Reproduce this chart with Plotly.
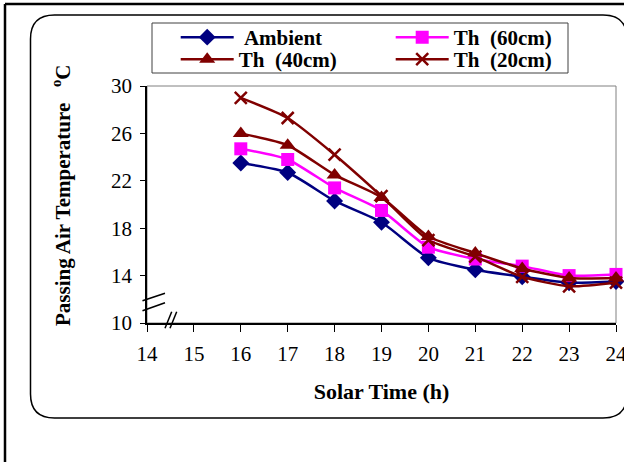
import plotly.graph_objects as go

hours = [16, 17, 18, 19, 20, 21, 22, 23, 24]
ambient = [23.5, 22.7, 20.3, 18.5, 15.5, 14.5, 13.9, 13.4, 13.5]
th60 = [24.7, 23.8, 21.4, 19.5, 16.4, 15.4, 14.8, 14.0, 14.1]
th40 = [26.0, 25.0, 22.5, 20.6, 17.3, 15.9, 14.6, 13.8, 13.8]
th20 = [29.0, 27.3, 24.2, 20.7, 17.0, 15.6, 13.9, 13.1, 13.4]

x_ticks = [14, 15, 16, 17, 18, 19, 20, 21, 22, 23, 24]
y_ticks = [10, 14, 18, 22, 26, 30]

W, H = 624, 462
L, R, T, B = 147, 616, 86, 323
SERIF = "Liberation Serif, Times New Roman, serif"


def px(x):
    return (x - L) / (R - L)


def py(y):
    return (B - y) / (B - T)


fig = go.Figure()

series = [
    ("\u00a0Ambient", ambient, "#000080", "diamond", 13, "legend", 175.7, 37.5),
    ("Th\u00a0\u00a0(60cm)", th60, "#FF00FF", "square", 13, "legend2", 390.7, 37.5),
    ("Th\u00a0\u00a0(40cm)", th40, "#800000", "triangle-up", 14, "legend3", 175.7, 59.5),
    ("Th\u00a0\u00a0(20cm)", th20, "#800000", "x-thin", 12, "legend4", 390.7, 59.5),
]
legends = {}
for name, vals, col, sym, size, leg, lx, ly in series:
    mk = dict(symbol=sym, size=size, color=col)
    if sym == "x-thin":
        mk["line"] = dict(color=col, width=2.5)
    fig.add_trace(go.Scatter(
        x=hours, y=vals, name=name, mode="lines+markers",
        line=dict(color=col, width=2.5, shape="spline", smoothing=0.6),
        marker=mk, cliponaxis=False, legend=leg,
    ))
    legends[leg] = dict(
        x=px(lx), y=py(ly), orientation="h", xanchor="left", yanchor="middle",
        font=dict(family=SERIF, size=21, color="black", weight="bold"),
        bgcolor="rgba(0,0,0,0)", borderwidth=0, itemwidth=53,
        itemclick=False, itemdoubleclick=False,
    )


def path_rrect(x0, y0, x1, y1, r):
    rx = r / (R - L)
    ry = r / (B - T)
    X0, X1 = px(x0), px(x1)
    Y0, Y1 = py(y0), py(y1)
    return (f"M{X0 + rx},{Y0} L{X1 - rx},{Y0} Q{X1},{Y0} {X1},{Y0 - ry} "
            f"L{X1},{Y1 + ry} Q{X1},{Y1} {X1 - rx},{Y1} L{X0 + rx},{Y1} "
            f"Q{X0},{Y1} {X0},{Y1 + ry} L{X0},{Y0 - ry} Q{X0},{Y0} {X0 + rx},{Y0} Z")


shapes = [
    dict(type="line", xref="paper", yref="paper", x0=px(5), x1=px(700), y0=py(4), y1=py(4),
         line=dict(color="black", width=2.5)),
    dict(type="line", xref="paper", yref="paper", x0=px(5), x1=px(5), y0=py(4), y1=py(500),
         line=dict(color="black", width=2.5)),
    dict(type="path", xref="paper", yref="paper", path=path_rrect(30.5, 15, 627, 418, 24),
         line=dict(color="black", width=1.5)),
    dict(type="rect", xref="paper", yref="paper", x0=0, x1=1, y0=0, y1=1,
         line=dict(color="#808080", width=1), layer="below"),
    dict(type="rect", xref="paper", yref="paper", x0=px(152), x1=px(568), y0=py(23), y1=py(73),
         line=dict(color="#404040", width=1), fillcolor="white", layer="below"),
    dict(type="line", xref="paper", yref="paper", x0=px(142.5), x1=px(165), y0=py(300.7), y1=py(293.3),
         line=dict(color="black", width=1.5)),
    dict(type="line", xref="paper", yref="paper", x0=px(142.5), x1=px(165), y0=py(310.7), y1=py(302.7),
         line=dict(color="black", width=1.5)),
    dict(type="line", xref="paper", yref="paper", x0=px(165), x1=px(171.7), y0=py(328.3), y1=py(311.7),
         line=dict(color="black", width=1.5)),
    dict(type="line", xref="paper", yref="paper", x0=px(170), x1=px(176.7), y0=py(328.3), y1=py(311.7),
         line=dict(color="black", width=1.5)),
]

fig.update_layout(
    width=W, height=H,
    margin=dict(l=L, r=W - R, t=T, b=H - B, pad=0, autoexpand=False),
    paper_bgcolor="white", plot_bgcolor="white",
    font=dict(family=SERIF, size=21, color="black"),
    showlegend=True,
    xaxis=dict(
        range=[14, 24], tickmode="array", tickvals=x_ticks, ticktext=[str(v) for v in x_ticks],
        showgrid=False, zeroline=False, showline=True, linecolor="black", linewidth=1.5,
        ticks="outside", ticklen=7, tickwidth=1, tickcolor="black",
        tickfont=dict(family=SERIF, size=21, color="black"), ticklabelstandoff=4,
        ticklabeloverflow="allow", automargin=False,
        title=dict(text="<b>Solar Time (h)</b>", font=dict(family=SERIF, size=22), standoff=19),
    ),
    yaxis=dict(
        range=[10, 30], tickmode="array", tickvals=y_ticks, ticktext=[str(v) for v in y_ticks],
        showgrid=False, zeroline=False, showline=True, linecolor="black", linewidth=1.5,
        ticks="outside", ticklen=5, tickwidth=1, tickcolor="black",
        tickfont=dict(family=SERIF, size=21, color="black"), ticklabelstandoff=4,
        ticklabeloverflow="allow", automargin=False,
    ),
    shapes=shapes,
    annotations=[
        dict(text="<b>Passing Air Temperature\u00a0\u00a0\u00a0<sup>o</sup>C</b>", textangle=-90,
             xref="paper", yref="paper", x=px(61), y=py(195), xanchor="center", yanchor="middle",
             showarrow=False, font=dict(family=SERIF, size=21, color="black")),
    ],
    **legends,
)

fig.write_html("out.html", config={"displayModeBar": False},
               post_script="document.body.style.margin='0px';")
